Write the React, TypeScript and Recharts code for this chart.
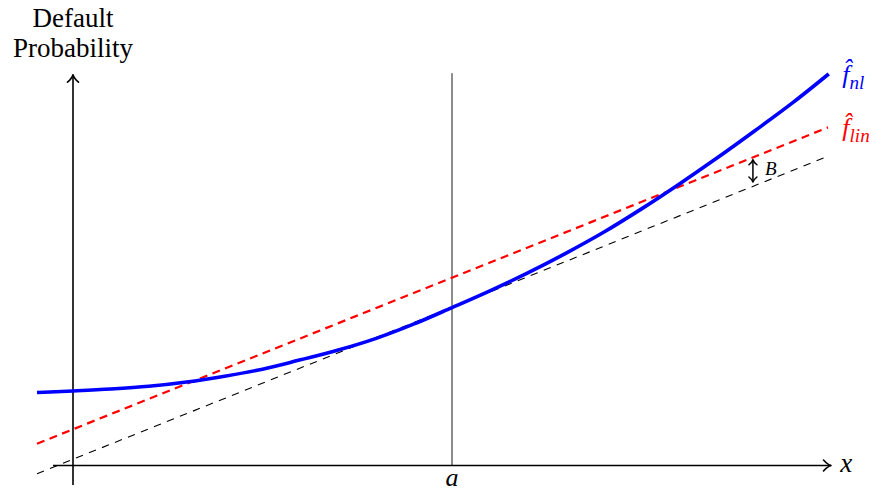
import React from "react";
import { LineChart, Line, XAxis, YAxis, ReferenceLine, ReferenceDot } from "recharts";

// Non-linear fit (blue curve)
const nlX = [-0.475, 0, 0.5, 1, 1.5, 2, 2.5, 3, 3.5, 4, 4.5, 5, 5.5, 6, 6.5, 7, 7.5, 8, 8.5, 9, 9.5, 9.97];
const nlY = [1.87, 1.91, 1.96, 2.03, 2.14, 2.29, 2.47, 2.71, 2.96, 3.26, 3.63, 4.05, 4.48, 4.94, 5.44, 5.98, 6.58, 7.22, 7.89, 8.59, 9.31, 10.04];
// Linear fit (red dashed)
const linX = [-0.475, 9.96];
const linY = [0.56, 8.67];
// Tangent at a (black dashed)
const tanX = [-0.475, 9.96];
const tanY = [-0.21, 7.93];

const aValue = 5;
const tickLabels = ["a", "x"];
const seriesLabels = ["nl", "lin"];
const axisTitle = ["Default", "Probability"];
const biasLabel = "B";
const biasX = 8.97;
const biasRange = [7.84, 7.27];

const X_DOMAIN: [number, number] = [-0.9631, 10.6596];
const Y_DOMAIN: [number, number] = [-0.6538, 11.936];

const nlData = nlX.map((x, i) => ({ x, y: nlY[i] }));
const linData = linX.map((x, i) => ({ x, y: linY[i] }));
const tanData = tanX.map((x, i) => ({ x, y: tanY[i] }));

const SERIF = "'Liberation Serif', 'DejaVu Serif', serif";

function headPath(tx: number, ty: number, dx: number, dy: number, L: number, W: number) {
  const nx = -dy;
  const ny = dx;
  const bx = tx - L * dx;
  const by = ty - L * dy;
  const p1x = bx + W * nx, p1y = by + W * ny;
  const p2x = bx - W * nx, p2y = by - W * ny;
  const c1x = tx - 0.45 * L * dx + 0.15 * W * nx, c1y = ty - 0.45 * L * dy + 0.15 * W * ny;
  const c2x = tx - 0.45 * L * dx - 0.15 * W * nx, c2y = ty - 0.45 * L * dy - 0.15 * W * ny;
  return `M${p1x},${p1y} Q${c1x},${c1y} ${tx},${ty} Q${c2x},${c2y} ${p2x},${p2y}`;
}

const arrowShape =
  (color: string, width: number, L: number, W: number, atStart: boolean, atEnd: boolean) =>
  (props: any) => {
    const { x1, y1, x2, y2 } = props;
    const len = Math.hypot(x2 - x1, y2 - y1) || 1;
    const dx = (x2 - x1) / len;
    const dy = (y2 - y1) / len;
    return (
      <g>
        <line x1={x1} y1={y1} x2={x2} y2={y2} stroke={color} strokeWidth={width} />
        {atEnd && (
          <path d={headPath(x2, y2, dx, dy, L, W)} fill="none" stroke={color} strokeWidth={width} strokeLinecap="round" strokeLinejoin="round" />
        )}
        {atStart && (
          <path d={headPath(x1, y1, -dx, -dy, L, W)} fill="none" stroke={color} strokeWidth={width} strokeLinecap="round" strokeLinejoin="round" />
        )}
      </g>
    );
  };

const textShape =
  (render: (cx: number, cy: number) => React.ReactElement) =>
  (props: any) =>
    render(props.cx, props.cy);

export default function App() {
  return (
    <div style={{ position: "absolute", left: 0, top: 0, width: 881, height: 491, background: "#fff" }}>
      <LineChart width={881} height={491} margin={{ top: 0, right: 0, bottom: 0, left: 0 }}>
        <XAxis type="number" dataKey="x" domain={X_DOMAIN} hide allowDataOverflow />
        <YAxis type="number" dataKey="y" domain={Y_DOMAIN} hide allowDataOverflow />

        {/* vertical line at a */}
        <ReferenceLine
          segment={[{ x: aValue, y: 0 }, { x: aValue, y: 10.06 }]}
          stroke="#000"
          strokeWidth={0.9}
        />
        {/* x axis */}
        <ReferenceLine
          segment={[{ x: -0.264, y: 0 }, { x: 10.0, y: 0 }]}
          shape={arrowShape("#000", 1.6, 7.5, 5.5, false, true)}
        />
        {/* y axis */}
        <ReferenceLine
          segment={[{ x: 0, y: -0.5 }, { x: 0, y: 10.02 }]}
          shape={arrowShape("#000", 1.6, 7.5, 5.5, false, true)}
        />

        <Line data={tanData} dataKey="y" type="linear" stroke="#000" strokeWidth={1.1} strokeDasharray="7.5 6.5" dot={false} activeDot={false} isAnimationActive={false} />
        <Line data={linData} dataKey="y" type="linear" stroke="#ff0000" strokeWidth={2.2} strokeDasharray="8 5.5" dot={false} activeDot={false} isAnimationActive={false} />
        <Line data={nlData} dataKey="y" type="monotone" stroke="#0000ff" strokeWidth={3.6} dot={false} activeDot={false} isAnimationActive={false} />

        {/* bias arrow */}
        <ReferenceLine
          segment={[{ x: biasX, y: biasRange[0] }, { x: biasX, y: biasRange[1] }]}
          shape={arrowShape("#000", 1.5, 5, 4, true, true)}
        />

        {/* texts */}
        <ReferenceDot
          x={0}
          y={11.24}
          r={0}
          shape={textShape((cx, cy) => (
            <text x={cx} y={cy} textAnchor="middle" style={{ fontFamily: SERIF }} fontSize={27} fill="#000">
              {axisTitle[0]}
            </text>
          ))}
        />
        <ReferenceDot
          x={0}
          y={10.47}
          r={0}
          shape={textShape((cx, cy) => (
            <text x={cx} y={cy} textAnchor="middle" style={{ fontFamily: SERIF }} fontSize={27} fill="#000">
              {axisTitle[1]}
            </text>
          ))}
        />
        <ReferenceDot
          x={aValue}
          y={-0.52}
          r={0}
          shape={textShape((cx, cy) => (
            <text x={cx} y={cy} textAnchor="middle" style={{ fontFamily: SERIF }} fontStyle="italic" fontSize={26} fill="#000">
              {tickLabels[0]}
            </text>
          ))}
        />
        <ReferenceDot
          x={10.2}
          y={-0.17}
          r={0}
          shape={textShape((cx, cy) => (
            <text x={cx} y={cy} textAnchor="middle" style={{ fontFamily: SERIF }} fontStyle="italic" fontSize={27} fill="#000">
              {tickLabels[1]}
            </text>
          ))}
        />
        <ReferenceDot
          x={10.15}
          y={9.81}
          r={0}
          shape={textShape((cx, cy) => (
            <text x={cx} y={cy} style={{ fontFamily: SERIF }} fontStyle="italic" fontSize={26} fill="#0000ff">
              {"f\u0302"}
              <tspan fontSize={19} dy={6}>{seriesLabels[0]}</tspan>
            </text>
          ))}
        />
        <ReferenceDot
          x={10.15}
          y={8.45}
          r={0}
          shape={textShape((cx, cy) => (
            <text x={cx} y={cy} style={{ fontFamily: SERIF }} fontStyle="italic" fontSize={26} fill="#ff0000">
              {"f\u0302"}
              <tspan fontSize={19} dy={6}>{seriesLabels[1]}</tspan>
            </text>
          ))}
        />
        <ReferenceDot
          x={9.13}
          y={7.45}
          r={0}
          shape={textShape((cx, cy) => (
            <text x={cx} y={cy} style={{ fontFamily: SERIF }} fontStyle="italic" fontSize={19} fill="#000">
              {biasLabel}
            </text>
          ))}
        />
      </LineChart>
    </div>
  );
}
